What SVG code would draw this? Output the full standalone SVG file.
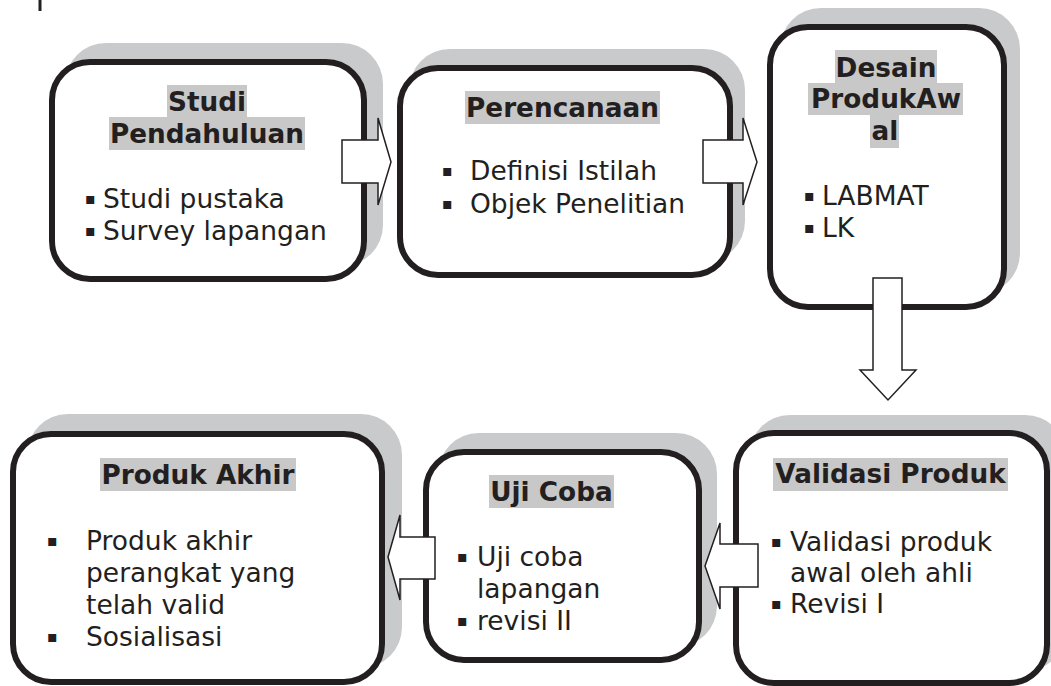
<svg xmlns="http://www.w3.org/2000/svg" width="1051" height="686" viewBox="0 0 1051 686">
<style>
.shadow{fill:#c9cacc;stroke:none}
.box{fill:#ffffff;stroke:#231f20;stroke-width:6}
.hl{fill:#c8c8c8;stroke:none}
.title{font-family:"DejaVu Sans",Verdana,sans-serif;font-size:26.3px;font-weight:bold;fill:#231f20;text-anchor:middle}
.item{font-family:"DejaVu Sans",Verdana,sans-serif;font-size:26.5px;fill:#231f20}
.bul{font-family:"DejaVu Sans",Verdana,sans-serif;font-size:16px;fill:#231f20}
.arrow{fill:#ffffff;stroke:#231f20;stroke-width:1.5;stroke-linejoin:miter}
</style>
<rect x="38.5" y="0" width="3" height="11" fill="#231f20"/>

<g id="node-studi-pendahuluan">
<rect class="shadow" x="65" y="43" width="318" height="223" rx="41"/>
<rect class="box" x="52" y="62" width="312" height="217" rx="38"/>
<rect class="hl" x="167" y="85" width="80" height="32"/>
<rect class="hl" x="109" y="117" width="196" height="33"/>
<text class="title" x="207" y="111">Studi</text>
<text class="title" x="207" y="143">Pendahuluan</text>
<text class="bul" x="85" y="204">▪</text>
<text class="item" x="103" y="208">Studi pustaka</text>
<text class="bul" x="85" y="236">▪</text>
<text class="item" x="103" y="240">Survey lapangan</text>
</g>

<g id="node-perencanaan">
<rect class="shadow" x="409" y="49" width="336" height="213" rx="41"/>
<rect class="box" x="400" y="68" width="330" height="207" rx="38"/>
<rect class="hl" x="465" y="91" width="195" height="33"/>
<text class="title" x="562.5" y="117">Perencanaan</text>
<text class="bul" x="442" y="176">▪</text>
<text class="item" x="470" y="180">Definisi Istilah</text>
<text class="bul" x="442" y="209">▪</text>
<text class="item" x="470" y="213">Objek Penelitian</text>
</g>

<g id="node-desain-produk-awal">
<rect class="shadow" x="780" y="8" width="240" height="286" rx="41"/>
<rect class="box" x="770" y="27" width="234" height="280" rx="38"/>
<rect class="hl" x="835" y="50" width="102" height="33"/>
<rect class="hl" x="808" y="83" width="155" height="32"/>
<rect class="hl" x="870" y="115" width="29" height="33"/>
<text class="title" x="886" y="77">Desain</text>
<text class="title" x="886" y="108">ProdukAw</text>
<text class="title" x="885" y="140">al</text>
<text class="bul" x="804" y="201">▪</text>
<text class="item" x="822" y="205">LABMAT</text>
<text class="bul" x="804" y="233">▪</text>
<text class="item" x="822" y="237">LK</text>
</g>

<g id="node-validasi-produk">
<rect class="shadow" x="749" y="415" width="317" height="256" rx="41"/>
<rect class="box" x="736" y="433" width="311" height="250" rx="38"/>
<rect class="hl" x="773" y="458" width="235" height="33"/>
<text class="title" x="890.5" y="483">Validasi Produk</text>
<text class="bul" x="771" y="547">▪</text>
<text class="item" x="790" y="551">Validasi produk</text>
<text class="item" x="790" y="582">awal oleh ahli</text>
<text class="bul" x="771" y="609">▪</text>
<text class="item" x="790" y="613">Revisi I</text>
</g>

<g id="node-uji-coba">
<rect class="shadow" x="438" y="433" width="279" height="214" rx="41"/>
<rect class="box" x="426" y="452" width="273" height="208" rx="38"/>
<rect class="hl" x="489" y="475" width="125" height="33"/>
<text class="title" x="551.5" y="501">Uji Coba</text>
<text class="bul" x="457" y="562">▪</text>
<text class="item" x="477" y="566">Uji coba</text>
<text class="item" x="477" y="598">lapangan</text>
<text class="bul" x="457" y="626">▪</text>
<text class="item" x="477" y="630">revisi II</text>
</g>

<g id="node-produk-akhir">
<rect class="shadow" x="27" y="414" width="375" height="254" rx="41"/>
<rect class="box" x="13" y="434" width="369" height="248" rx="38"/>
<rect class="hl" x="100" y="458" width="196" height="33"/>
<text class="title" x="198" y="484">Produk Akhir</text>
<text class="bul" x="47" y="546">▪</text>
<text class="item" x="86" y="550">Produk akhir</text>
<text class="item" x="86" y="582">perangkat yang</text>
<text class="item" x="86" y="614">telah valid</text>
<text class="bul" x="47" y="642">▪</text>
<text class="item" x="86" y="646">Sosialisasi</text>
</g>

<g id="connectors">
<polygon class="arrow" points="342,140 378,140 378,118 391,162 378,205 378,183 342,183"/>
<polygon class="arrow" points="703,140 743,140 743,118 757,162 743,205 743,183 703,183"/>
<polygon class="arrow" points="873,278 902,278 902,370 916,370 888,400 860,370 873,370"/>
<polygon class="arrow" points="758,544 720,544 720,523 705,566 720,609 720,587 758,587"/>
<polygon class="arrow" points="435,537 400,537 400,515 388,557 400,600 400,579 435,579"/>
</g>
</svg>
